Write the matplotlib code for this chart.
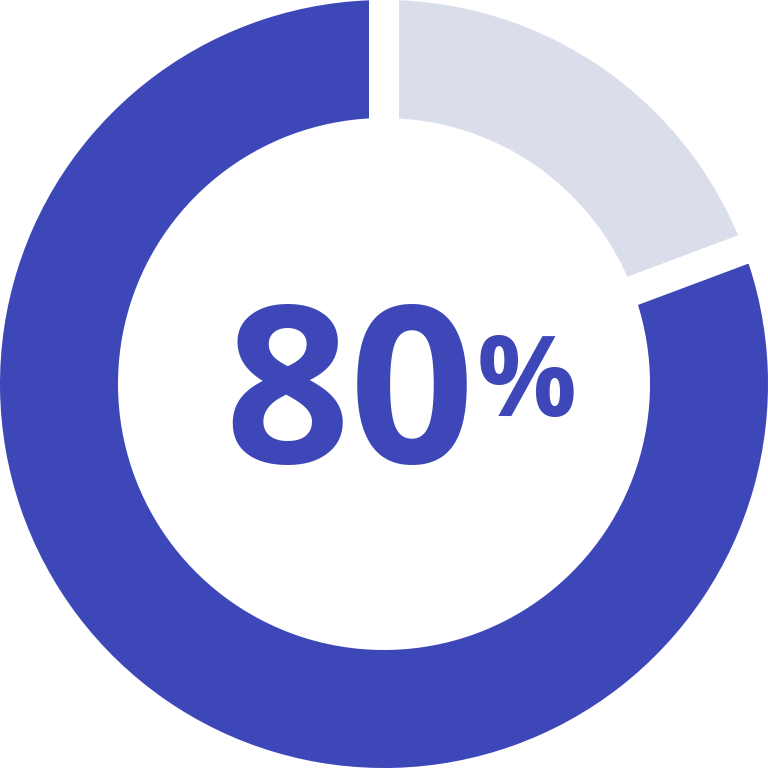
import matplotlib
matplotlib.use("Agg")
import matplotlib.pyplot as plt

# data
labels = ["done", "remaining"]
values = [80.7, 19.3]   # gray arc as drawn is a bit short of 20 %
colors = ["#3D47B8", "#DADDEA"]
pct_text = "80"

DPI = 100
fig = plt.figure(figsize=(7.68, 7.68), dpi=DPI)
ax = fig.add_axes([0, 0, 1, 1])
ax.set_aspect("equal"); ax.axis("off")

px = 2 / 768  # data units per pixel
gap_px = 30
lw = gap_px * 72 / DPI
ax.pie(values[::-1], colors=colors[::-1], startangle=90, counterclock=False,
       radius=1 + gap_px / 2 * px,
       wedgeprops=dict(width=(118 + gap_px) * px, edgecolor="white", linewidth=lw))
ax.set_xlim(-1, 1); ax.set_ylim(-1, 1)

ax.text(-0.0885, -0.2057, pct_text, ha="center", va="baseline", fontsize=158,
        fontfamily="Open Sans", fontweight="bold", color=colors[0])
ax.text(0.372, -0.0833, "%", ha="center", va="baseline", fontsize=80,
        fontfamily="Open Sans", fontweight="bold", color=colors[0])

fig.savefig("out.png", dpi=DPI)
